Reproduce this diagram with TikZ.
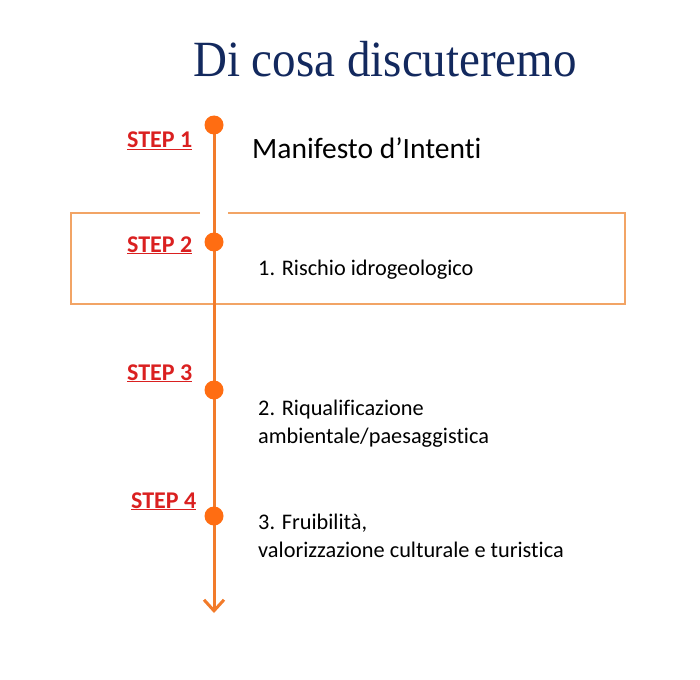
\documentclass[tikz,border=0pt]{standalone}
\usepackage{fontspec}
\setmainfont[Ligatures=NoCommon]{Carlito}
\newfontfamily\titlefont{Liberation Serif}
\usetikzlibrary{arrows.meta}
\definecolor{navy}{HTML}{13295E}
\definecolor{spineorange}{HTML}{F27B2A}
\definecolor{dotorange}{HTML}{FF6D12}
\definecolor{boxorange}{HTML}{F2A465}
\definecolor{stepred}{HTML}{DA2020}
\tikzset{
  spine/.style={draw=spineorange, line width=3pt, -{Straight Barb[length=11pt,width=20pt,line width=3pt]}},
  dotnode/.style={circle, fill=dotorange, minimum size=19pt, inner sep=0pt},
  steplabel/.style={anchor=base west, inner sep=0pt, text=stepred, font=\fontsize{24}{26}\selectfont\bfseries},
  itemtext/.style={anchor=base west, inner sep=0pt, align=left, font=\fontsize{22.3}{27.5}\selectfont},
  frame/.style={draw=boxorange, line width=2pt},
}
\begin{document}
\begin{tikzpicture}[x=1pt,y=-1pt]
\useasboundingbox (0,0) rectangle (700,679);
\node[anchor=base, inner sep=0pt, text=navy, font=\titlefont\fontsize{47}{50}\selectfont, yscale=1.08] (title) at (385,77) {Di cosa discuteremo};
% frame box with a gap for the spine
\draw[frame] (200,213) -- (71,213) -- (71,304) -- (625,304) -- (625,213) -- (228,213);
% spine
\coordinate (p1) at (214,125);
\coordinate (p2) at (214,242);
\coordinate (p3) at (214,390);
\coordinate (p4) at (214,516);
\coordinate (tip) at (214,613);
\draw[spine] (p1) -- (tip);
\node[dotnode] (d1) at (p1) {};
\node[dotnode] (d2) at (p2) {};
\node[dotnode] (d3) at (p3) {};
\node[dotnode] (d4) at (p4) {};
% step labels
\node[steplabel] (s1) at (127,148) {\underline{STEP 1}};
\node[steplabel] (s2) at (127,252) {\underline{STEP 2}};
\node[steplabel] (s3) at (127,380) {\underline{STEP 3}};
\node[steplabel] (s4) at (131,508) {\underline{STEP 4}};
% items
\node[anchor=base west, inner sep=0pt, font=\fontsize{29.5}{34}\selectfont] (m) at (252,158) {Manifesto d’Intenti};
\node[itemtext] (i1) at (258,275) {1. Rischio idrogeologico};
\node[itemtext] (i2) at (258,443) {2. Riqualificazione\\ambientale/paesaggistica};
\node[itemtext] (i3) at (258,557) {3. Fruibilità,\\valorizzazione culturale e turistica};
\end{tikzpicture}
\end{document}
